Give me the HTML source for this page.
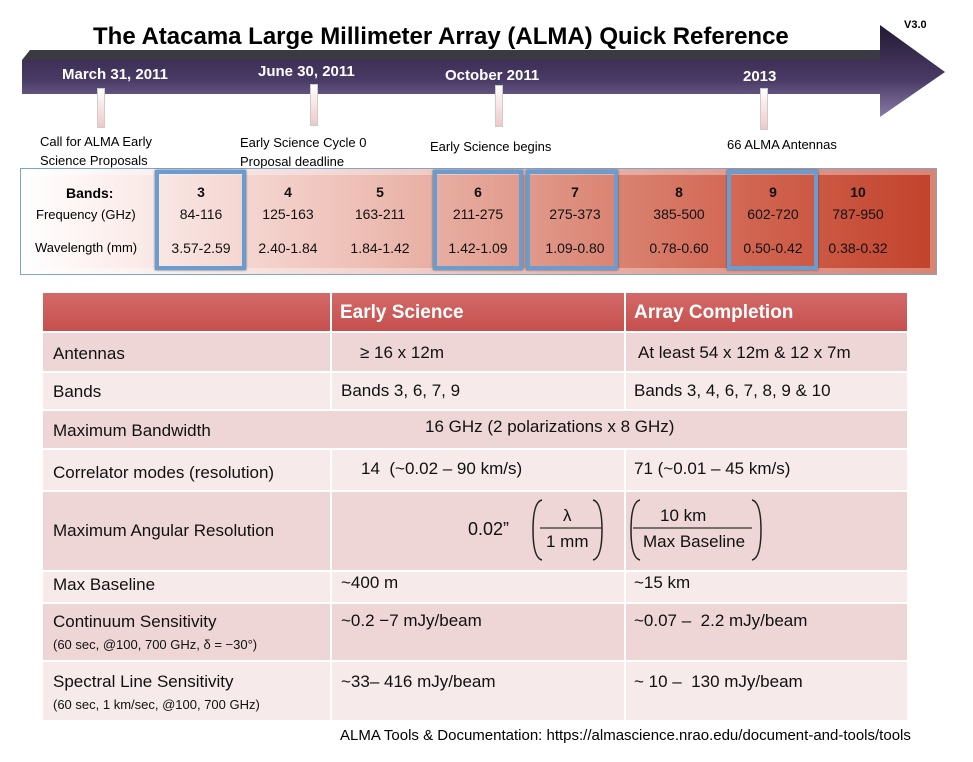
<!DOCTYPE html>
<html><head><meta charset="utf-8"><style>
body{margin:0;width:973px;height:762px;background:#fff;font-family:"Liberation Sans",sans-serif;position:relative;overflow:hidden}
.a{position:absolute;white-space:nowrap}
.t{font-size:13px;color:#000}
.c{position:absolute;font-size:17px;color:#111}
.w{color:#fff;font-weight:bold;font-size:15px}
.hl{position:absolute;top:170px;height:100px;border:4px solid #6a9ccf;box-sizing:border-box;box-shadow:0 0 2px #456}
.bt{position:absolute;text-align:center;font-size:14px;color:#111;width:90px}
</style></head><body>
<svg class="a" style="left:0;top:0" width="973" height="130">
<defs><linearGradient id="g" x1="0" y1="0" x2="0" y2="1"><stop offset="0" stop-color="#241a33"/><stop offset="0.6" stop-color="#4a3b66"/><stop offset="1" stop-color="#8a7aa8"/></linearGradient></defs>
<polygon points="22,60 30,50 880,50 880,60" fill="#3a3a44"/>
<polygon points="22,60 880,60 880,25 945,72 880,117 880,94 22,94" fill="url(#g)"/>
</svg>
<div class="a" style="left:93px;top:23px;font-size:24px;font-weight:bold">The Atacama Large Millimeter Array (ALMA) Quick Reference</div>
<div class="a" style="left:904px;top:19px;font-size:11px;font-weight:bold">V3.0</div>
<div class="a w" style="left:62px;top:66px">March 31, 2011</div>
<div class="a w" style="left:258px;top:63px">June 30, 2011</div>
<div class="a w" style="left:445px;top:67px">October 2011</div>
<div class="a w" style="left:743px;top:68px">2013</div>
<div class="a" style="left:97px;top:88px;width:6px;height:38px;background:linear-gradient(#fff,#f0c8c8);border:1px solid #ccc"></div>
<div class="a" style="left:310px;top:84px;width:6px;height:40px;background:linear-gradient(#fff,#f0c8c8);border:1px solid #ccc"></div>
<div class="a" style="left:495px;top:85px;width:6px;height:40px;background:linear-gradient(#fff,#f0c8c8);border:1px solid #ccc"></div>
<div class="a" style="left:760px;top:88px;width:6px;height:40px;background:linear-gradient(#fff,#f0c8c8);border:1px solid #ccc"></div>
<div class="a t" style="left:40px;top:132px;line-height:19px">Call for ALMA Early<br>Science Proposals</div>
<div class="a t" style="left:240px;top:133px;line-height:19px">Early Science Cycle 0<br>Proposal deadline</div>
<div class="a t" style="left:430px;top:139px">Early Science begins</div>
<div class="a t" style="left:727px;top:137px">66 ALMA Antennas</div>
<div class="a" style="left:20px;top:168px;width:917px;height:107px;border:1px solid #7aa6d6;box-sizing:border-box;background:linear-gradient(90deg,#fff 0%,#fbecea 12%,#efc3bb 35%,#e19a8b 55%,#d46d5a 75%,#c2422b 100%);box-shadow:inset 0 0 0 6px rgba(255,255,255,.35)"></div>
<div class="hl" style="left:155px;width:91px"></div>
<div class="hl" style="left:433px;width:90px"></div>
<div class="hl" style="left:526px;width:92px"></div>
<div class="hl" style="left:727px;width:91px"></div>
<div class="a" style="left:66px;top:185px;font-size:14px;font-weight:bold">Bands:</div>
<div class="a" style="left:36px;top:207px;font-size:13px">Frequency (GHz)</div>
<div class="a" style="left:35px;top:240px;font-size:13px">Wavelength (mm)</div>
<div class="bt" style="left:156px;top:184px;font-weight:bold">3</div><div class="bt" style="left:156px;top:206px">84-116</div><div class="bt" style="left:156px;top:240px">3.57-2.59</div>
<div class="bt" style="left:243px;top:184px;font-weight:bold">4</div><div class="bt" style="left:243px;top:206px">125-163</div><div class="bt" style="left:243px;top:240px">2.40-1.84</div>
<div class="bt" style="left:335px;top:184px;font-weight:bold">5</div><div class="bt" style="left:335px;top:206px">163-211</div><div class="bt" style="left:335px;top:240px">1.84-1.42</div>
<div class="bt" style="left:433px;top:184px;font-weight:bold">6</div><div class="bt" style="left:433px;top:206px">211-275</div><div class="bt" style="left:433px;top:240px">1.42-1.09</div>
<div class="bt" style="left:530px;top:184px;font-weight:bold">7</div><div class="bt" style="left:530px;top:206px">275-373</div><div class="bt" style="left:530px;top:240px">1.09-0.80</div>
<div class="bt" style="left:634px;top:184px;font-weight:bold">8</div><div class="bt" style="left:634px;top:206px">385-500</div><div class="bt" style="left:634px;top:240px">0.78-0.60</div>
<div class="bt" style="left:728px;top:184px;font-weight:bold">9</div><div class="bt" style="left:728px;top:206px">602-720</div><div class="bt" style="left:728px;top:240px">0.50-0.42</div>
<div class="bt" style="left:813px;top:184px;font-weight:bold">10</div><div class="bt" style="left:813px;top:206px">787-950</div><div class="bt" style="left:813px;top:240px">0.38-0.32</div>

<div class="a" style="left:43px;top:293px;width:864px;height:38px;background:linear-gradient(#d26a68,#c6504e)"></div>
<div class="a" style="left:43px;top:333px;width:864px;height:38px;background:#eed6d6"></div>
<div class="a" style="left:43px;top:373px;width:864px;height:36px;background:#f6eaea"></div>
<div class="a" style="left:43px;top:411px;width:864px;height:37px;background:#eed6d6"></div>
<div class="a" style="left:43px;top:450px;width:864px;height:40px;background:#f6eaea"></div>
<div class="a" style="left:43px;top:492px;width:864px;height:78px;background:#eed6d6"></div>
<div class="a" style="left:43px;top:572px;width:864px;height:30px;background:#f6eaea"></div>
<div class="a" style="left:43px;top:604px;width:864px;height:56px;background:#eed6d6"></div>
<div class="a" style="left:43px;top:662px;width:864px;height:58px;background:#f6eaea"></div>
<div class="a" style="left:330px;top:293px;width:2px;height:118px;background:#fff"></div>
<div class="a" style="left:624px;top:293px;width:2px;height:118px;background:#fff"></div>
<div class="a" style="left:330px;top:448px;width:2px;height:272px;background:#fff"></div>
<div class="a" style="left:624px;top:448px;width:2px;height:272px;background:#fff"></div>
<div class="a" style="left:340px;top:302px;font-size:19px;font-weight:bold;color:#fff">Early Science</div>
<div class="a" style="left:634px;top:302px;font-size:19px;font-weight:bold;color:#fff">Array Completion</div>
<div class="c" style="left:53px;top:344px">Antennas</div>
<div class="c" style="left:360px;top:343px">≥ 16 x 12m</div>
<div class="c" style="left:638px;top:343px">At least 54 x 12m &amp; 12 x 7m</div>
<div class="c" style="left:53px;top:382px">Bands</div>
<div class="c" style="left:341px;top:381px">Bands 3, 6, 7, 9</div>
<div class="c" style="left:634px;top:381px">Bands 3, 4, 6, 7, 8, 9 &amp; 10</div>
<div class="c" style="left:53px;top:421px">Maximum Bandwidth</div>
<div class="c" style="left:425px;top:417px">16 GHz (2 polarizations x 8 GHz)</div>
<div class="c" style="left:53px;top:463px">Correlator modes (resolution)</div>
<div class="c" style="left:361px;top:459px">14 &nbsp;(~0.02 – 90 km/s)</div>
<div class="c" style="left:634px;top:459px">71 (~0.01 – 45 km/s)</div>
<div class="c" style="left:53px;top:521px">Maximum Angular Resolution</div>
<div class="c" style="left:468px;top:519px;font-size:18px">0.02”</div>
<svg class="a" style="left:530px;top:496px" width="240" height="68">
<path d="M12,4 Q3,6 3,34 Q3,62 12,64" fill="none" stroke="#222" stroke-width="1.5"/>
<path d="M63,4 Q72,6 72,34 Q72,62 63,64" fill="none" stroke="#222" stroke-width="1.5"/>
<line x1="10" y1="32" x2="72" y2="32" stroke="#333" stroke-width="1.2"/>
<path d="M110,4 Q101,6 101,34 Q101,62 110,64" fill="none" stroke="#222" stroke-width="1.5"/>
<path d="M222,4 Q231,6 231,34 Q231,62 222,64" fill="none" stroke="#222" stroke-width="1.5"/>
<line x1="103" y1="32" x2="222" y2="32" stroke="#333" stroke-width="1.2"/>
</svg>
<div class="c" style="left:563px;top:506px">λ</div>
<div class="c" style="left:546px;top:532px">1 mm</div>
<div class="c" style="left:660px;top:506px">10 km</div>
<div class="c" style="left:643px;top:532px">Max Baseline</div>
<div class="c" style="left:53px;top:575px">Max Baseline</div>
<div class="c" style="left:341px;top:573px">~400 m</div>
<div class="c" style="left:634px;top:573px">~15 km</div>
<div class="c" style="left:53px;top:612px">Continuum Sensitivity</div>
<div class="c" style="left:53px;top:637px;font-size:13px">(60 sec, @100, 700 GHz, δ = −30°)</div>
<div class="c" style="left:341px;top:611px">~0.2 −7 mJy/beam</div>
<div class="c" style="left:634px;top:611px">~0.07 – &nbsp;2.2 mJy/beam</div>
<div class="c" style="left:53px;top:672px">Spectral Line Sensitivity</div>
<div class="c" style="left:53px;top:697px;font-size:13px">(60 sec, 1 km/sec, @100, 700 GHz)</div>
<div class="c" style="left:341px;top:672px">~33– 416 mJy/beam</div>
<div class="c" style="left:634px;top:672px">~ 10 – &nbsp;130 mJy/beam</div>
<div class="a" style="left:340px;top:727px;font-size:15px">ALMA Tools &amp; Documentation: https://almascience.nrao.edu/document-and-tools/tools</div>
</body></html>
